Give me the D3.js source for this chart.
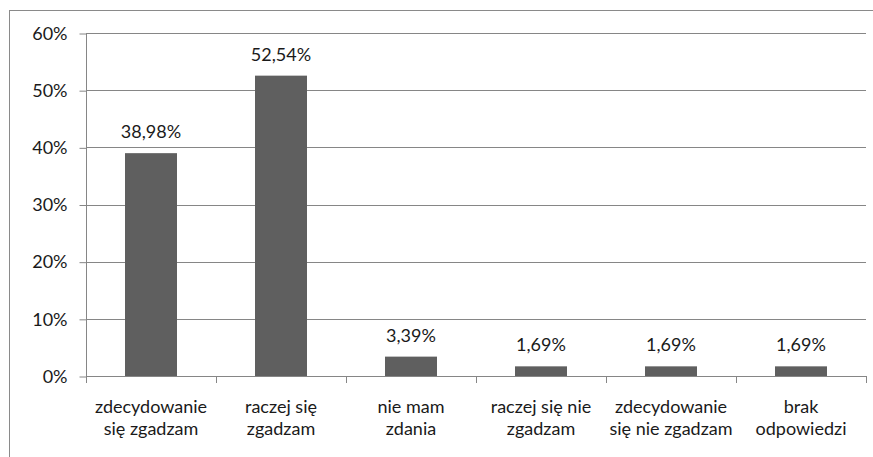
<!DOCTYPE html>
<html lang="pl">
<head>
<meta charset="UTF-8">
<title>Chart</title>
<script src="https://d3js.org/d3.v7.min.js"></script>
<style>
  body { margin: 0; background: #fff; }
  svg text { font-family: 'Lato', 'Liberation Sans', sans-serif; fill: #1a1a1a; }
</style>
</head>
<body>
<svg id="chart" width="873" height="457"></svg>
<script>
// data
const categories = [
  ["zdecydowanie", "się zgadzam"],
  ["raczej się", "zgadzam"],
  ["nie mam", "zdania"],
  ["raczej się nie", "zgadzam"],
  ["zdecydowanie", "się nie zgadzam"],
  ["brak", "odpowiedzi"]
];
const values = [38.98, 52.54, 3.39, 1.69, 1.69, 1.69];
const yTicks = [0, 10, 20, 30, 40, 50, 60];

const svg = d3.select("#chart");
const plotLeft = 86, plotRight = 866, plotTop = 33, plotBottom = 376;
const fontSize = "18px";

// outer frame (only top and left are inside the picture)
svg.append("rect")
  .attr("x", 9.5).attr("y", 10.5)
  .attr("width", 900).attr("height", 500)
  .attr("fill", "none")
  .attr("stroke", "#8a8a8a");

const x = d3.scaleBand()
  .domain(d3.range(categories.length))
  .range([plotLeft, plotRight])
  .paddingInner(0.6)
  .paddingOuter(0.3);

const y = d3.scaleLinear().domain([0, 60]).range([plotBottom, plotTop]);

// gridlines
svg.selectAll(".grid")
  .data(yTicks.slice(1))
  .join("line")
  .attr("x1", plotLeft).attr("x2", plotRight)
  .attr("y1", d => Math.round(y(d)) + 0.5)
  .attr("y2", d => Math.round(y(d)) + 0.5)
  .attr("stroke", "#868686");

// y axis
const yAxis = d3.axisLeft(y)
  .tickValues(yTicks)
  .tickFormat(d => d + "%")
  .tickSize(7)
  .tickPadding(12);

const gy = svg.append("g")
  .attr("transform", `translate(${plotLeft + 0.5},0.5)`)
  .call(yAxis);
gy.selectAll("path, line").attr("stroke", "#868686");
gy.select(".domain").attr("d", `M0,${plotTop}V${plotBottom}`);
gy.selectAll("text").style("font-size", fontSize).attr("fill", "#1a1a1a");

// bars
svg.selectAll(".bar")
  .data(values)
  .join("rect")
  .attr("x", (d, i) => x(i))
  .attr("y", d => y(d))
  .attr("width", x.bandwidth())
  .attr("height", d => plotBottom - y(d))
  .attr("fill", "#5f5f5f");

// value labels
svg.selectAll(".val")
  .data(values)
  .join("text")
  .attr("x", (d, i) => x(i) + x.bandwidth() / 2)
  .attr("y", d => y(d) - 15)
  .attr("text-anchor", "middle")
  .style("font-size", fontSize)
  .text(d => d.toFixed(2).replace(".", ",") + "%");

// x axis line and ticks
const step = x.step();
const xg = svg.append("g");
xg.append("line")
  .attr("x1", plotLeft).attr("x2", plotRight)
  .attr("y1", plotBottom + 0.5).attr("y2", plotBottom + 0.5)
  .attr("stroke", "#868686");
xg.selectAll(".xt")
  .data(d3.range(categories.length + 1))
  .join("line")
  .attr("x1", i => Math.round(plotLeft + i * step) + 0.5)
  .attr("x2", i => Math.round(plotLeft + i * step) + 0.5)
  .attr("y1", plotBottom).attr("y2", plotBottom + 7)
  .attr("stroke", "#868686");

// category labels
const cl = svg.selectAll(".cat")
  .data(categories)
  .join("text")
  .attr("text-anchor", "middle")
  .style("font-size", fontSize)
  .attr("x", (d, i) => x(i) + x.bandwidth() / 2)
  .attr("y", 413);
cl.selectAll("tspan")
  .data(d => d)
  .join("tspan")
  .attr("x", function () { return this.parentNode.getAttribute("x"); })
  .attr("dy", (d, i) => i === 0 ? 0 : 22)
  .text(d => d);
</script>
</body>
</html>
